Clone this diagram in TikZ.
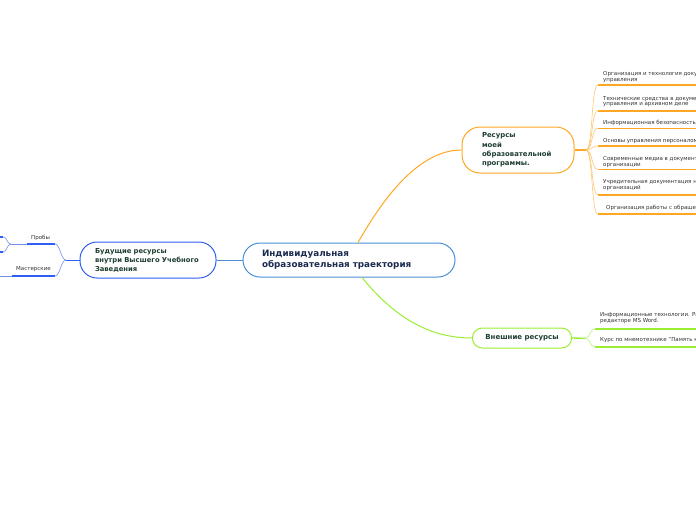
\documentclass[tikz,border=0pt]{standalone}
\usepackage{fontspec}
\setmainfont{DejaVu Sans}
\definecolor{cmain}{HTML}{4A90D9}
\definecolor{corange}{HTML}{FFA722}
\definecolor{corangel}{HTML}{FFC670}
\definecolor{cgreen}{HTML}{99EE33}
\definecolor{cgreenl}{HTML}{B8F270}
\definecolor{cblue}{HTML}{2F5FF5}
\definecolor{cbluel}{HTML}{6F8FF5}
\definecolor{tmain}{HTML}{1B2B4F}
\definecolor{tnode}{HTML}{1E3F30}
\definecolor{tleaf}{HTML}{333333}
\begin{document}
\begin{tikzpicture}[x=1pt,y=-1pt,
  box/.style={draw, line width=1pt, fill=white, align=left, inner ysep=0pt, text=tnode},
  leaf/.style={font=\fontsize{5.5}{5.8}\selectfont, text=tleaf, inner sep=0pt, anchor=north west, align=left},
  uline/.style={line width=1.6pt},
  conn/.style={line width=0.6pt}]
\useasboundingbox (0,0) rectangle (696,520);
\clip (0,0) rectangle (696,520);

% main nodes
\node[box, draw=cmain, rounded corners=17pt, minimum width=212pt, minimum height=34pt,
  text width=174pt, inner xsep=19pt, font=\fontsize{8.8}{11}\selectfont\bfseries, text=tmain]
  (c) at (349,260) {Индивидуальная\\образовательная траектория};
\node[box, draw=corange, rounded corners=18pt, minimum width=112pt, minimum height=46pt,
  text width=72pt, inner xsep=20pt, font=\fontsize{6.9}{9.3}\selectfont\bfseries]
  (o) at (518,150) {Ресурсы\\моей\\образовательной\\программы.};
\node[box, draw=cgreen, rounded corners=10pt, minimum width=98pt, minimum height=20pt,
  inner xsep=13pt, font=\fontsize{7}{9}\selectfont\bfseries]
  (g) at (522,338) {Внешние ресурсы};
\node[box, draw=cblue, rounded corners=17pt, minimum width=136pt, minimum height=36pt,
  text width=106pt, inner xsep=15pt, font=\fontsize{6.8}{9}\selectfont\bfseries]
  (b) at (148,260) {Будущие ресурсы\\внутри Высшего Учебного\\Заведения};

% main connectors
\draw[corange, line width=1pt] ([xshift=9pt]c.north) .. controls (385,195) and (420,150) .. (o.west);
\draw[cgreen, line width=1pt] ([xshift=13pt]c.south) .. controls (395,318) and (430,338) .. (g.west);
\draw[cmain, line width=1pt] (c.west) -- (b.east);

% orange branch
\coordinate (oh) at (586,150);
\draw[corange, line width=1.4pt] (o.east) -- (oh);
\foreach \yy [count=\i] in {85,110.7,128.3,146,169.3,195,214} {
  \coordinate (ou\i) at (598,\yy);
  \draw[corangel, conn] (oh) .. controls (593,150) and (591,\yy) .. (ou\i);
  \draw[corange, uline] (ou\i) -- ++(110,0);
}
\node[leaf] (l1) at (603,71.3) {Организация и технология документационного обеспечения\\управления};
\node[leaf] (l2) at (603,95.6) {Технические средства в документационном обеспечении\\управления и архивном деле};
\node[leaf] (l3) at (603,119.6) {Информационная безопасность};
\node[leaf] (l4) at (603,138) {Основы управления персоналом};
\node[leaf] (l5) at (603,156.3) {Современные медиа в документационном обеспечении\\организации};
\node[leaf] (l6) at (603,179.6) {Учредительная документация некоммерческих\\организаций};
\node[leaf] (l7) at (606,204.6) {Организация работы с обращениями граждан};

% green branch
\coordinate (gh) at (585,338.3);
\draw[cgreen, line width=1.4pt] (g.east) -- (gh);
\foreach \yy [count=\i] in {329,346.7} {
  \coordinate (gu\i) at (595,\yy);
  \draw[cgreenl, conn] (gh) .. controls (591,338.3) and (589,\yy) .. (gu\i);
  \draw[cgreen, uline] (gu\i) -- ++(110,0);
}
\node[leaf] (e1) at (600,312.3) {Информационные технологии. Работа в текстовом\\редакторе MS Word.};
\node[leaf] (e2) at (600,337.3) {Курс по мнемотехнике "Память как система"};

% blue branch
\coordinate (bh) at (66,260);
\draw[cblue, line width=1pt] (b.west) -- (bh);
\coordinate (p1) at (55,244);
\coordinate (p0) at (27,244);
\coordinate (pl) at (11,244);
\draw[cbluel, conn] (bh) .. controls (61,260) and (60,244) .. (p1);
\draw[cblue, uline] (p0) -- (p1);
\draw[cbluel, conn] (pl) -- (p0);
\coordinate (k1) at (3,237);
\coordinate (k2) at (3,252);
\draw[cbluel, conn] (pl) .. controls (7,244) and (7,237) .. (k1);
\draw[cbluel, conn] (pl) .. controls (7,244) and (7,252) .. (k2);
\draw[cblue, uline] (k1) -- ++(-30,0);
\draw[cblue, uline] (k2) -- ++(-30,0);
\coordinate (m1) at (55,276);
\coordinate (m0) at (12,276);
\draw[cbluel, conn] (bh) .. controls (61,260) and (60,276) .. (m1);
\draw[cblue, uline] (m0) -- (m1);
\draw[cbluel, conn] (m0) -- ++(-20,0);
\node[leaf] (pr) at (31,235.3) {Пробы};
\node[leaf] (ms) at (16,266.3) {Мастерские};
\end{tikzpicture}
\end{document}
